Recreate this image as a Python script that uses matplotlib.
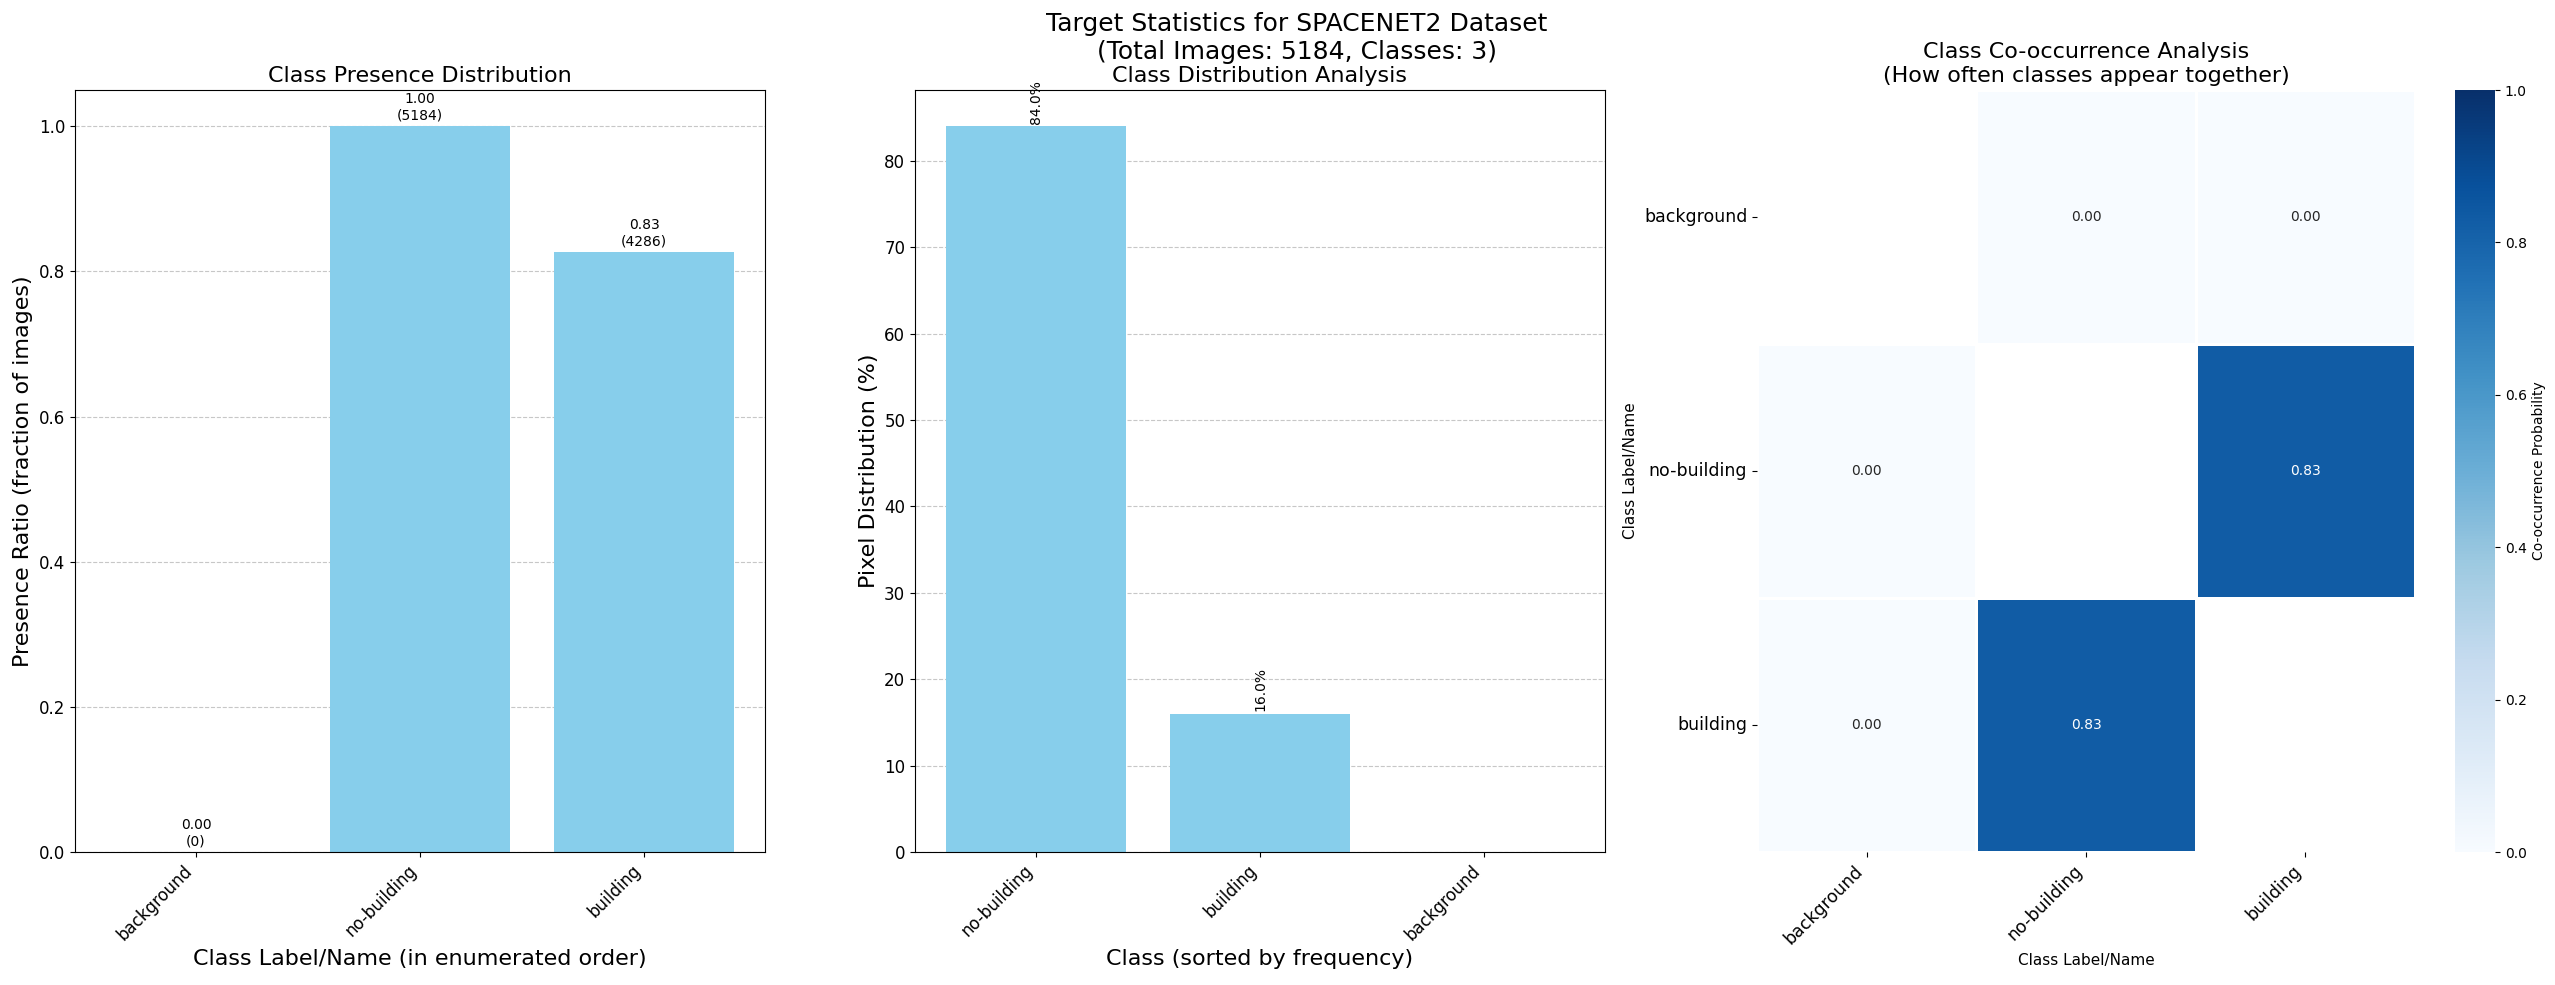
import numpy as np
import matplotlib
matplotlib.use("Agg")
import matplotlib.pyplot as plt
import seaborn as sns

# Data
classes = ["background", "no-building", "building"]
presence_ratio = [0.00, 1.00, 0.8268]
presence_count = [0, 5184, 4286]

sorted_classes = ["no-building", "building", "background"]
pixel_pct = [84.0, 16.0, 0.0]

cooc = np.array([[np.nan, 0.00, 0.00],
                 [0.00, np.nan, 0.83],
                 [0.00, 0.83, np.nan]])

total_images = 5184
bar_color = "skyblue"

W, H = 2555, 985
def box(x0, x1, y0=90, y1=852):
    # pixel box -> figure fraction
    return [x0 / W, 1 - y1 / H, (x1 - x0) / W, (y1 - y0) / H]

fig = plt.figure(figsize=(25.55, 9.85), dpi=100)
fig.suptitle(f"Target Statistics for SPACENET2 Dataset\n(Total Images: {total_images}, Classes: {len(classes)})",
             fontsize=18, x=0.5076, y=0.988)

# Panel 1: presence
ax1 = fig.add_axes(box(75, 765))
x1 = np.arange(len(classes))
bars = ax1.bar(x1, presence_ratio, color=bar_color, width=0.8)
for b, r, c in zip(bars, presence_ratio, presence_count):
    ax1.text(b.get_x() + b.get_width()/2, b.get_height() + 0.005, f"{r:.2f}\n({c})",
             ha="center", va="bottom", fontsize=10)
ax1.set_xticks(x1)
ax1.set_xticklabels(classes, rotation=45, ha="right", fontsize=12)
ax1.tick_params(axis="y", labelsize=12)
ax1.set_ylim(0, 1.05)
ax1.set_xlabel("Class Label/Name (in enumerated order)", fontsize=16)
ax1.set_ylabel("Presence Ratio (fraction of images)", fontsize=16)
ax1.set_title("Class Presence Distribution", fontsize=16)
ax1.grid(axis="y", linestyle="--", alpha=0.7)
ax1.set_axisbelow(True)

# Panel 2: pixel distribution
ax2 = fig.add_axes(box(915, 1605))
x2 = np.arange(len(sorted_classes))
bars2 = ax2.bar(x2, pixel_pct, color=bar_color, width=0.8)
for b, p in zip(bars2, pixel_pct):
    if p > 0:
        ax2.text(b.get_x() + b.get_width()/2, b.get_height() + 0.3, f"{p:.1f}%",
                 ha="center", va="bottom", rotation=90, fontsize=10)
ax2.set_xticks(x2)
ax2.set_xticklabels(sorted_classes, rotation=45, ha="right", fontsize=12)
ax2.tick_params(axis="y", labelsize=12)
ax2.set_ylim(0, max(pixel_pct) * 1.05)
ax2.set_xlabel("Class (sorted by frequency)", fontsize=16)
ax2.set_ylabel("Pixel Distribution (%)", fontsize=16)
ax2.set_title("Class Distribution Analysis", fontsize=16)
ax2.grid(axis="y", linestyle="--", alpha=0.7)
ax2.set_axisbelow(True)

# Panel 3: co-occurrence heatmap
ax3 = fig.add_axes(box(1757, 2415))
cax = fig.add_axes(box(2455, 2495))
mask = np.eye(len(classes), dtype=bool)
sns.heatmap(np.nan_to_num(cooc), mask=mask, annot=True, fmt=".2f", cmap="Blues",
            vmin=0, vmax=1, linewidths=1, linecolor="white", ax=ax3, cbar_ax=cax,
            xticklabels=classes, yticklabels=classes,
            cbar_kws={"label": "Co-occurrence Probability"}, annot_kws={"fontsize": 10})
ax3.set_xticklabels(classes, rotation=45, ha="right", fontsize=12.5)
ax3.set_yticklabels(classes, rotation=0, fontsize=12.5)
ax3.set_xlabel("Class Label/Name", fontsize=11)
ax3.set_ylabel("Class Label/Name", fontsize=11)
ax3.set_title("Class Co-occurrence Analysis\n(How often classes appear together)", fontsize=16)
cax.tick_params(labelsize=10)
cax.yaxis.label.set_size(10)

fig.savefig("out.png", dpi=100)
